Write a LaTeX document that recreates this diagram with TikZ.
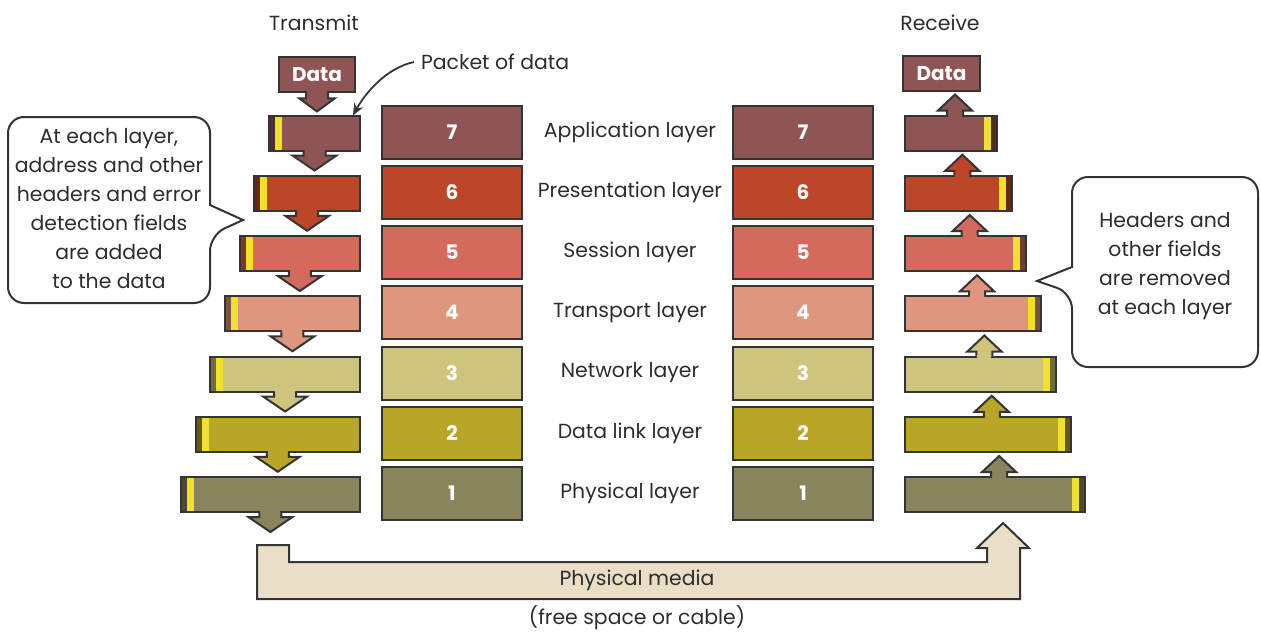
\documentclass[tikz,border=0pt]{standalone}
\usepackage{fontspec}
\setmainfont{Poppins}
\usepackage{tikz}
\usetikzlibrary{calc,arrows.meta}
\definecolor{osiSeven}{RGB}{142,85,84}
\definecolor{osiSix}{RGB}{190,70,40}
\definecolor{osiFive}{RGB}{212,106,92}
\definecolor{osiFour}{RGB}{222,150,126}
\definecolor{osiThree}{RGB}{206,196,124}
\definecolor{osiTwo}{RGB}{183,166,40}
\definecolor{osiOne}{RGB}{136,132,92}
\definecolor{osiMedia}{RGB}{234,222,198}
\definecolor{osiYellow}{RGB}{240,226,40}
\definecolor{osiLine}{RGB}{52,52,52}
\definecolor{osiText}{RGB}{45,45,45}

\begin{document}
\begin{tikzpicture}[x=0.5pt,y=-0.5pt,
  outl/.style={draw=osiLine,line width=1pt},
  layerbox/.style={outl,rectangle,outer sep=0pt,inner sep=0pt,
    minimum width=70pt,minimum height=26.5pt,text=white,font=\bfseries},
  packet/.style={outl,rectangle,outer sep=0pt,inner sep=0pt,minimum height=17.5pt},
  lbl/.style={text=osiText,font=\fontsize{10.2}{14.5}\selectfont},
  bubble/.style={outl,fill=white}]
\useasboundingbox (0,0) rectangle (1261,631);
\node[lbl] (tx) at (314,23) {Transmit};
\node[lbl] (rx) at (940,23) {Receive};
\node[packet,fill=osiSeven,minimum width=38pt,text=white,font=\bfseries] (dt) at (317,75) {Data};
\node[packet,fill=osiSeven,minimum width=38.5pt,text=white,font=\bfseries] (dr) at (941.5,74) {Data};
\filldraw[outl,fill=osiSeven] ($(dt.south)+(-11,0)$) -- ++(0,6) -- ++(-6.5,0)
  -- ++(17.5,13) -- ++(17.5,-13) -- ++(-6.5,0) -- ++(0,-6);
\fill[osiSeven] ($(dt.south)+(-10,-1.2)$) rectangle ++(20,2.4);
\foreach \n/\col/\name in {7/osiSeven/Application layer,6/osiSix/Presentation layer,
  5/osiFive/Session layer,4/osiFour/Transport layer,3/osiThree/Network layer,
  2/osiTwo/Data link layer,1/osiOne/Physical layer}
{
  \pgfmathsetmacro{\y}{132+(7-\n)*60.25}
  \pgfmathsetmacro{\tl}{269-(7-\n)*14.7}
  \pgfmathsetmacro{\rr}{997+(7-\n)*14.7}
  \pgfmathsetmacro{\tw}{(360-\tl)/2}
  \pgfmathsetmacro{\rw}{(\rr-905)/2}
  \node[layerbox,fill=\col] (ml\n) at (452,\y) {\n};
  \node[layerbox,fill=\col] (mr\n) at (803,\y) {\n};
  \node[lbl] (nm\n) at (630,\y) {\name};
  % transmit side
  \node[packet,fill=\col,minimum width=\tw pt] (tp\n) at ({(\tl+360)/2},\y+1) {};
  \fill[\col!55!black] ($(tp\n.north west)+(1,1)$) rectangle ($(tp\n.south west)+(6,-1)$);
  \fill[osiYellow] ($(tp\n.north west)+(6,1)$) rectangle ($(tp\n.south west)+(13,-1)$);
  \filldraw[outl,fill=\col] ($(tp\n.south)+(-11,0)$) -- ++(0,5) -- ++(-11,0)
    -- ++(22,15) -- ++(22,-15) -- ++(-11,0) -- ++(0,-5);
  \fill[\col] ($(tp\n.south)+(-10,-1.2)$) rectangle ++(20,2.4);
  % receive side
  \node[packet,fill=\col,minimum width=\rw pt] (rp\n) at ({(905+\rr)/2},\y+1) {};
  \fill[\col!55!black] ($(rp\n.north east)+(-1,1)$) rectangle ($(rp\n.south east)+(-6,-1)$);
  \fill[osiYellow] ($(rp\n.north east)+(-6,1)$) rectangle ($(rp\n.south east)+(-13,-1)$);
  \filldraw[outl,fill=\col] ($(rp\n.north)+(-4,0)$) -- ++(0,-5) -- ++(-9,0)
    -- ++(17,-16) -- ++(17,16) -- ++(-9,0) -- ++(0,5);
  \fill[\col] ($(rp\n.north)+(-3,-1.2)$) rectangle ++(14,2.4);
}
\filldraw[outl,fill=osiMedia] (257,545) -- (289,545) -- (289,562) -- (987,562) -- (987,548)
  -- (977,548) -- (1003,523) -- (1029,548) -- (1020,548) -- (1020,599) -- (257,599) -- cycle;
\node[lbl] (pm) at (637,580) {Physical media};
\node[lbl] (fs) at (637,618) {(free space or cable)};
\node[lbl,anchor=west] (pk) at (414,62) {Packet of data};
\draw[-{Stealth[length=6pt,width=5pt]},line width=0.9pt,osiLine] (pk.west)
  .. controls +(-28,6) and +(12,-22) .. ($(tp7.north east)+(-7,0)$);
\draw[bubble,rounded corners=8pt] (210,160) -- (210,117) -- (8,117) -- (8,303) -- (210,303)
  -- (210,235) [sharp corners] -- (243,220) -- (210,205) -- cycle;
\node[lbl,align=center] (lt) at (109,209) {At each layer,\\address and other\\headers and error\\detection fields\\are added\\to the data};
\draw[bubble,rounded corners=8pt] (1072,220) -- (1072,177) -- (1258,177) -- (1258,367) -- (1072,367)
  -- (1072,293) [sharp corners] -- (1037,281) -- (1072,267) -- cycle;
\node[lbl,align=center] (rt) at (1165,266) {Headers and\\other fields\\are removed\\at each layer};
\end{tikzpicture}
\end{document}
